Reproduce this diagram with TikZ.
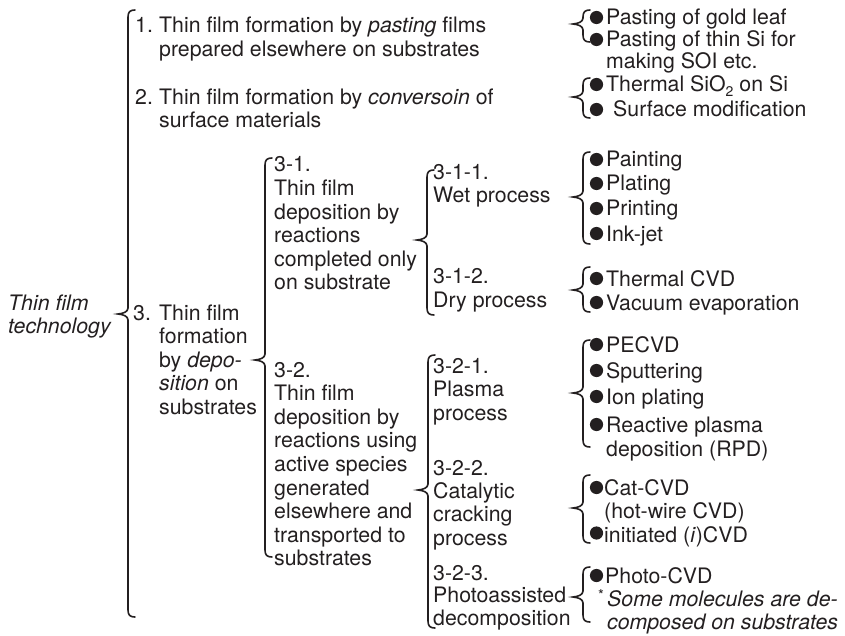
\documentclass[tikz,border=0pt]{standalone}
\usepackage{fontspec}
\setmainfont{TeX Gyre Heros}
\definecolor{ink}{RGB}{35,31,32}
\newcommand\blk[2][23.6pt]{\vtop{\baselineskip=#1\lineskiplimit=-30pt\lineskip=0pt\halign{##\hfil\cr#2\crcr}}}
\newcommand\curlyb[4]{\draw[brc] (#1+7,#2) .. controls (#1+2,#2) and (#1,#2+2) .. (#1,#2+7) -- (#1,#3-6) .. controls (#1,#3-2) and (#1-5,#3-0.5) .. (#1-10,#3) .. controls (#1-5,#3+0.5) and (#1,#3+2) .. (#1,#3+6) -- (#1,#4-7) .. controls (#1,#4-2) and (#1+2,#4) .. (#1+7,#4);}
\begin{document}
\begin{tikzpicture}[x=1pt,y=-1pt,
  txt/.style={anchor=base west,inner sep=0pt,text=ink,font=\fontsize{21.3}{23.6}\selectfont},
  brc/.style={draw=ink,line width=1.6pt,line cap=round},
  bul/.style={fill=ink}]
\useasboundingbox (0,0) rectangle (845,636);
% root
\node[txt] (root) at (8,310) {\itshape\blk{Thin film\cr technology}};
\curlyb{128}{10}{314}{617}
% level 1
\node[txt] (n1num) at (135,33) {1.};
\node[txt] (n1) at (159,33) {\blk{Thin film formation by \textit{pasting} films\cr prepared elsewhere on substrates}};
\node[txt] (n2num) at (135,105) {2.};
\node[txt] (n2) at (159,105) {\blk[23pt]{Thin film formation by \textit{conversoin} of\cr surface materials}};
\node[txt] (n3num) at (133,320) {3.};
\node[txt] (n3) at (159,320) {\blk{Thin film\cr formation\cr by \textit{depo-}\cr \textit{sition} on\cr substrates}};
% level 2
\curlyb{265}{158}{360}{557}
\node[txt] (n31) at (274,172) {\blk{3-1.\cr Thin film\cr deposition by\cr reactions\cr completed only\cr on substrate}};
\node[txt] (n32) at (274,377) {\blk{3-2.\cr Thin film\cr deposition by\cr reactions using\cr active species\cr generated\cr elsewhere and\cr transported to\cr substrates}};
% level 3
\curlyb{427}{170}{240}{315}
\node[txt] (n311) at (433,180) {\blk[23pt]{3-1-1.\cr Wet process}};
\node[txt] (n312) at (433,283) {\blk[24pt]{3-1-2.\cr Dry process}};
\curlyb{428}{355}{490}{628}
\node[txt] (n321) at (433,373) {\blk{3-2-1.\cr Plasma\cr process}};
\node[txt] (n322) at (433,475) {\blk[23.4pt]{3-2-2.\cr Catalytic\cr cracking\cr process}};
\node[txt] (n323) at (433,580) {\blk[22.5pt]{3-2-3.\cr Photoassisted\cr decomposition}};
% right column braces
\curlyb{583}{10}{24}{42}
\curlyb{583}{78}{97}{118}
\curlyb{583}{152}{197}{244}
\curlyb{583}{267}{290}{312}
\curlyb{583}{340}{393}{447}
\curlyb{583}{475}{508}{543}
\curlyb{583}{567}{597}{622}
% bullets
\foreach \yy in {25,47,92,117,167,191,216,241,286,310,352,378,404,432,495,583}
  \fill[bul] (596.5,\yy-7.5) circle (6.6pt);
\fill[bul] (596.5,533) circle (6.6pt);
% leaves
\node[txt] (b1) at (606,25) {Pasting of gold leaf};
\node[txt] (b2) at (606,47) {\blk[22pt]{Pasting of thin Si for\cr making SOI etc.}};
\node[txt] (b3) at (606,92) {Thermal SiO\raisebox{-5pt}{\fontsize{14}{14}\selectfont 2} on Si};
\node[txt] (b4) at (613,117) {Surface modification};
\node[txt] (b5) at (606,167) {Painting};
\node[txt] (b6) at (606,191) {Plating};
\node[txt] (b7) at (606,216) {Printing};
\node[txt] (b8) at (606,241) {Ink-jet};
\node[txt] (b9) at (606,286) {Thermal CVD};
\node[txt] (b10) at (606,310) {Vacuum evaporation};
\node[txt] (b11) at (606,352) {PECVD};
\node[txt] (b12) at (606,378) {Sputtering};
\node[txt] (b13) at (606,404) {Ion plating};
\node[txt] (b14) at (606,432) {\blk[24pt]{Reactive plasma\cr deposition (RPD)}};
\node[txt] (b15) at (604,495) {\blk[23pt]{Cat-CVD\cr (hot-wire CVD)}};
\node[txt] (b16) at (604,542) {initiated (\textit{i})CVD};
\node[txt] (b17) at (605,583) {Photo-CVD};
\node[txt] (ast) at (598,600) {\fontsize{15}{15}\selectfont *};
\node[txt] (note) at (607,606) {\itshape\blk[23pt]{Some molecules are de-\cr composed on substrates}};
\end{tikzpicture}
\end{document}
